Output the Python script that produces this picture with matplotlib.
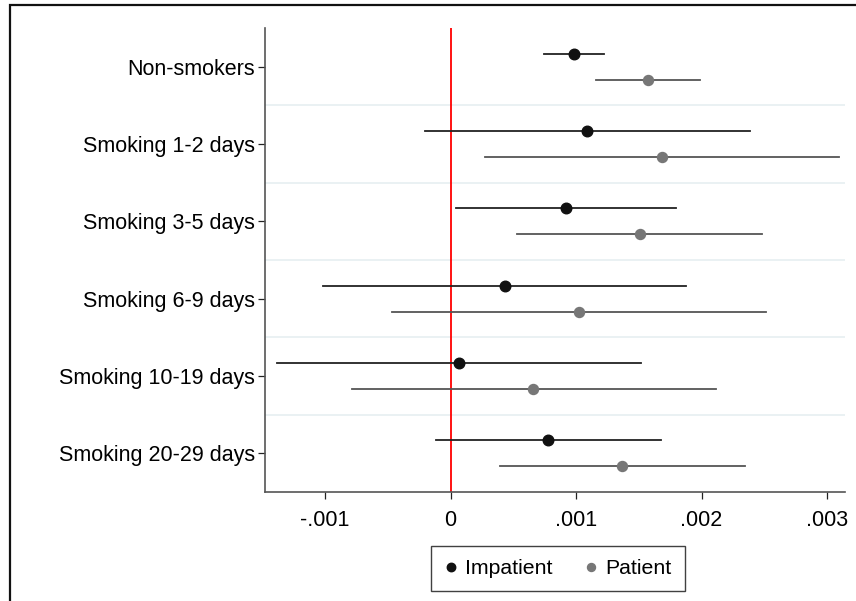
import matplotlib
matplotlib.use("Agg")
import matplotlib.pyplot as plt
from matplotlib.patches import Rectangle

plt.rcParams['font.family'] = ['Liberation Sans', 'DejaVu Sans']

categories = ["Non-smokers", "Smoking 1-2 days", "Smoking 3-5 days",
              "Smoking 6-9 days", "Smoking 10-19 days", "Smoking 20-29 days"]
impatient = [0.000982, 0.001089, 0.000923, 0.000433, 0.0000645, 0.00078]
impatient_lo = [0.000742, -0.000203, 0.000045, -0.001017, -0.00138, -0.000114]
impatient_hi = [0.001225, 0.002388, 0.00180, 0.001878, 0.001518, 0.00168]
patient = [0.001572, 0.001683, 0.00151, 0.001023, 0.000658, 0.00137]
patient_lo = [0.001163, 0.000277, 0.000533, -0.00047, -0.000787, 0.000396]
patient_hi = [0.001988, 0.003092, 0.00248, 0.002517, 0.002114, 0.002348]
xticks = [-0.001, 0, 0.001, 0.002, 0.003]
xticklabels = ["-.001", "0", ".001", ".002", ".003"]

fig = plt.figure(figsize=(8.56, 6.01), dpi=100)
ax = fig.add_axes([265/856, 1-492/601, (845-265)/856, (492-28)/601])

n = len(categories)
off = 0.17
for i in range(n - 1):
    ax.axhline(i + 0.5, color="#e8f0f2", lw=1.3, zorder=0)
ax.axvline(0, color="#ff0000", lw=1.3, zorder=1)

for i in range(n):
    ax.plot([impatient_lo[i], impatient_hi[i]], [i - off, i - off], color="#222222", lw=1.3, zorder=2)
    ax.plot([patient_lo[i], patient_hi[i]], [i + off, i + off], color="#555555", lw=1.3, zorder=2)
ax.plot(impatient, [i - off for i in range(n)], 'o', color="#111111", ms=7.6, ls='none', zorder=3, label="Impatient")
ax.plot(patient, [i + off for i in range(n)], 'o', color="#777777", ms=7.2, ls='none', zorder=3, label="Patient")

ax.set_ylim(n - 0.5, -0.5)
ax.set_xlim(-0.001478, 0.003143)
ax.set_yticks(range(n))
ax.set_yticklabels(categories, fontsize=15.5)
ax.set_xticks(xticks)
ax.set_xticklabels(xticklabels, fontsize=15.5)
ax.tick_params(axis='both', direction='out', length=5, width=0.9, color="#222222")
ax.tick_params(axis='y', pad=2)
ax.tick_params(axis='x', pad=8)
for s in ['top', 'right']:
    ax.spines[s].set_visible(False)
for s in ['left', 'bottom']:
    ax.spines[s].set_color("#555555")
    ax.spines[s].set_linewidth(1.2)

leg = ax.legend(loc='upper center', bbox_to_anchor=(0.505, -0.116), ncol=2, fontsize=15.3,
                frameon=True, fancybox=False, edgecolor="#111111", handletextpad=0.35,
                columnspacing=1.55, markerscale=0.8, borderpad=0.62, handlelength=0.6,
                borderaxespad=0)
leg.get_frame().set_linewidth(1.0)

fig.patches.append(Rectangle((10/856, -0.1), 1.2, 1 - 5/601 + 0.1, transform=fig.transFigure,
                             fill=False, edgecolor="#111111", lw=1.6))

fig.savefig("out.png", dpi=100)
